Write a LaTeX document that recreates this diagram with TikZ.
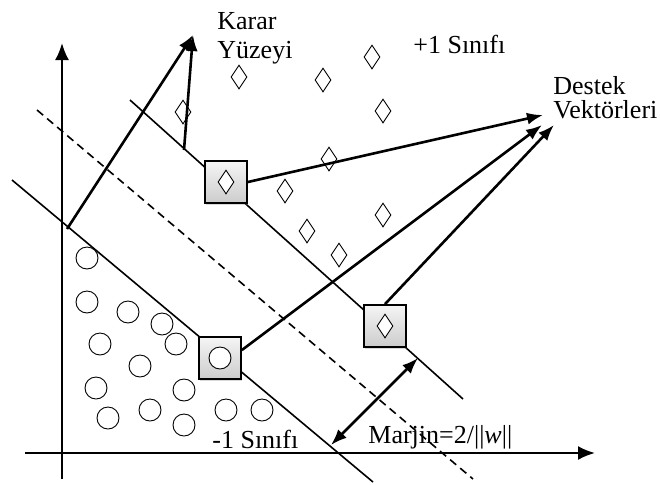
\documentclass[tikz,border=0pt]{standalone}
\usepackage{fontspec}
\setmainfont{Liberation Serif}
\usetikzlibrary{arrows.meta,shadows,shapes.geometric}
\begin{document}
\begin{tikzpicture}[x=0.5pt,y=-0.5pt,
  axis/.style={line width=1.1pt,-{Latex[length=8.5pt,width=7pt]}},
  sepline/.style={line width=0.8pt},
  ptr/.style={line width=1.3pt,-{Latex[length=8pt,width=6pt]}},
  twoway/.style={line width=1.3pt,{Latex[length=8pt,width=6pt]}-{Latex[length=8pt,width=6pt]}},
  plus/.style={diamond,draw,fill=white,line width=0.45pt,minimum width=8pt,minimum height=12pt,inner sep=0pt},
  minus/.style={circle,draw,fill=white,line width=0.45pt,minimum size=11pt,inner sep=0pt},
  svbox/.style={draw,line width=0.9pt,minimum size=21pt,inner sep=0pt,top color=gray!8,bottom color=gray!40,
    drop shadow={opacity=0.3,shadow xshift=0.6pt,shadow yshift=-1.2pt}},
  lbl/.style={font=\fontsize{13pt}{14.5pt}\selectfont,inner sep=0pt}]
\useasboundingbox (0,0) rectangle (660,484);
\fill[white] (0,0) rectangle (660,484);
% axes
\coordinate (yb) at (62,479);
\coordinate (yt) at (62,43);
\coordinate (xl) at (25,453);
\coordinate (xr) at (595,453);
\draw[axis] (yb) -- (yt);
\draw[axis] (xl) -- (xr);
% separating lines
\coordinate (l1) at (12,180);
\coordinate (l2) at (373,482);
\coordinate (u1) at (130,100);
\coordinate (u2) at (463,399);
\coordinate (d1) at (37,110);
\coordinate (d2) at (473,479);
\draw[sepline] (l1) -- (l2);
\draw[sepline] (u1) -- (u2);
% +1 class
\foreach \p in {(239,77),(323,80),(372,57),(183,112),(383,111),(329,159),(285,191),(307,231),(383,215),(339,255)}
  \node[plus] at \p {};
% -1 class
\foreach \p in {(87,258),(87,302),(128,312),(162,324),(100,344),(176,344),(140,366),(96,388),(184,390),(108,418),(150,410),(184,425),(226,410),(262,410)}
  \node[minus] at \p {};
% support vectors
\node[svbox] (sv1) at (226,182) {};
\node[plus] (sv1in) at (sv1) {};
\node[svbox] (sv2) at (220,358) {};
\node[minus] (sv2in) at (sv2) {};
\node[svbox] (sv3) at (385,326) {};
\node[plus] (sv3in) at (sv3) {};
% labels
\node[lbl,anchor=north west,align=left] (karar) at (217,12) {Karar\\Yüzeyi};
\node[lbl,anchor=base west] (plusc) at (413,53) {+1 Sınıfı};
\node[lbl,anchor=north west,align=left,font=\fontsize{13pt}{12pt}\selectfont] (destek) at (553,76) {Destek\\Vektörleri};
\node[lbl,anchor=base west] (minusc) at (212,448) {-1 Sınıfı};
\node[lbl,anchor=base west] (marjin) at (368,443) {Marjin=2/||\textit{w}||};
\draw[sepline,dashed,dash pattern=on 4pt off 2.6pt] (d1) -- (d2);
% arrows to Karar Yuzeyi
\coordinate (kt) at (193,35);
\coordinate (ka) at (67,229);
\coordinate (kb) at (184,150);
\draw[ptr] (ka) -- (kt);
\draw[ptr] (kb) -- (kt);
% arrows to Destek Vektorleri
\coordinate (dv1) at (543,115);
\coordinate (dv2) at (542,125);
\coordinate (dv3) at (554,125);
\draw[ptr] (sv1.east) -- (dv1);
\draw[ptr] (sv2.20) -- (dv2);
\draw[ptr] (sv3.north) -- (dv3);
% margin
\coordinate (m1) at (331,445);
\coordinate (m2) at (418,358);
\draw[twoway] (m1) -- (m2);
\end{tikzpicture}
\end{document}
